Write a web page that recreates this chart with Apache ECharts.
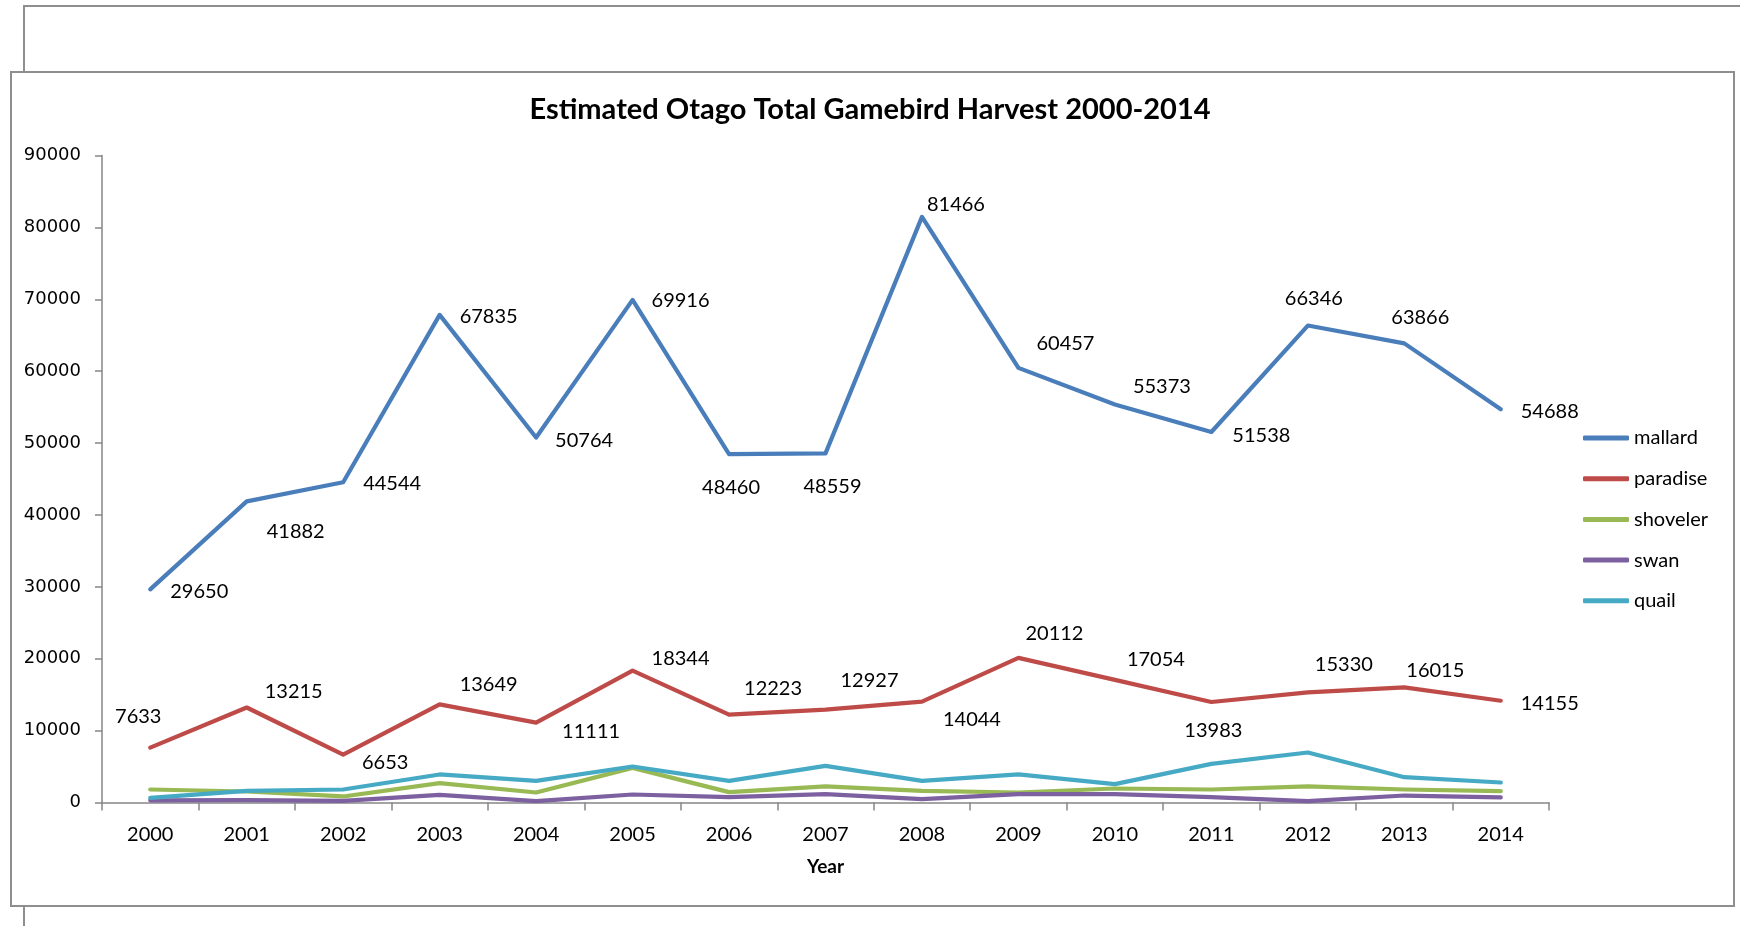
<!DOCTYPE html>
<html>
<head>
<meta charset="utf-8">
<script src="https://cdn.jsdelivr.net/npm/echarts@6/dist/echarts.min.js"></script>
<style>
html,body{margin:0;padding:0;background:#fff;}
#chart{width:1740px;height:926px;}
</style>
</head>
<body>
<div id="chart"></div>
<script>
// ---- data ----
const years = ['2000','2001','2002','2003','2004','2005','2006','2007','2008','2009','2010','2011','2012','2013','2014'];
const mallard  = [29650,41882,44544,67835,50764,69916,48460,48559,81466,60457,55373,51538,66346,63866,54688];
const paradise = [7633,13215,6653,13649,11111,18344,12223,12927,14044,20112,17054,13983,15330,16015,14155];
const shoveler = [1810,1530,840,2690,1390,4820,1440,2230,1620,1390,1950,1810,2230,1810,1580];
const swan     = [300,325,230,1070,185,1110,740,1160,460,1160,1160,740,185,970,700];
const quail    = [650,1620,1810,3900,3010,5010,3010,5100,3010,3900,2550,5380,6960,3520,2780];
const yMin = 0, yMax = 90000, yStep = 10000;
const titleText = 'Estimated Otago Total Gamebird Harvest 2000-2014';
const xName = 'Year';

// ---- label placement (offset of label centre from point, px) ----
const mallardLabelOffset = [[49,2],[49,30],[49,1],[49,2],[48,3],[48,1],[2,33],[7,33],[34,-12],[47,-24],[47,-18],[50,4],[6,-27],[16,-26],[49,2]];
const paradiseLabelOffset = [[-12,-31],[47,-16],[42,8],[49,-20],[55,9],[48,-12],[44,-26],[44,-29],[50,18],[36,-24],[41,-20],[2,29],[36,-28],[31,-17],[49,3]];

const FONT = 'Lato';
const colors = {mallard:'#4A7EBB', paradise:'#BE4B48', shoveler:'#98B954', swan:'#7D60A0', quail:'#46AAC5'};

function labeled(vals, offs){
  return vals.map((v,i)=>({value:v, label:{show:true, position:'inside', align:'center', verticalAlign:'middle', offset:offs[i]}}));
}
function mkSeries(name, data, withLabels){
  return {
    name, type:'line', data,
    symbol:'circle', symbolSize:0.01, showSymbol:true,
    lineStyle:{width:4.2, color:colors[name], cap:'round', join:'round'},
    itemStyle:{color:colors[name]},
    label:{show:!!withLabels, color:'#000', fontFamily:FONT, fontSize:20},
    emphasis:{disabled:true},
    animation:false
  };
}

const chart = echarts.init(document.getElementById('chart'), null, {renderer:'canvas'});
chart.setOption({
  backgroundColor:'#fff',
  animation:false,
  graphic:[
    {type:'rect', z:-10, shape:{x:24, y:6, width:1730, height:1000}, style:{fill:'#fff', stroke:'#8e8e8e', lineWidth:2}},
    {type:'rect', z:-9, shape:{x:11, y:72, width:1723, height:834}, style:{fill:'#fff', stroke:'#8e8e8e', lineWidth:2}}
  ],
  title:{
    text:titleText, left:'center', top:90,
    textStyle:{fontFamily:FONT, fontWeight:'bold', fontSize:29, color:'#000'}
  },
  legend:{
    orient:'vertical', left:1583, top:428, padding:0,
    itemWidth:46, itemHeight:5, itemGap:20.7,
    icon:'roundRect',
    textStyle:{fontFamily:FONT, fontSize:20, color:'#000'},
    data:['mallard','paradise','shoveler','swan','quail']
  },
  grid:{left:102, right:191, top:155.5, bottom:123.5, containLabel:false},
  xAxis:{
    type:'category', data:years, boundaryGap:true,
    name:xName, nameLocation:'middle', nameGap:55,
    nameTextStyle:{fontFamily:FONT, fontWeight:'bold', fontSize:19, color:'#000'},
    axisLine:{lineStyle:{color:'#868686', width:1.5}},
    axisTick:{show:true, interval:0, length:8, lineStyle:{color:'#868686', width:1.5}},
    axisLabel:{interval:0, margin:22, fontFamily:FONT, fontSize:20, color:'#000'},
    splitLine:{show:false}
  },
  yAxis:{
    type:'value', min:yMin, max:yMax, interval:yStep,
    axisLine:{show:true, lineStyle:{color:'#868686', width:1.5}},
    axisTick:{show:true, length:7, lineStyle:{color:'#868686', width:1.5}},
    axisLabel:{margin:21, fontFamily:'DejaVu Sans', fontSize:18, color:'#000', formatter:(v)=>String(v)},
    splitLine:{show:false}
  },
  series:[
    mkSeries('mallard', labeled(mallard, mallardLabelOffset), true),
    mkSeries('paradise', labeled(paradise, paradiseLabelOffset), true),
    mkSeries('shoveler', shoveler, false),
    mkSeries('swan', swan, false),
    mkSeries('quail', quail, false)
  ]
});
</script>
</body>
</html>
